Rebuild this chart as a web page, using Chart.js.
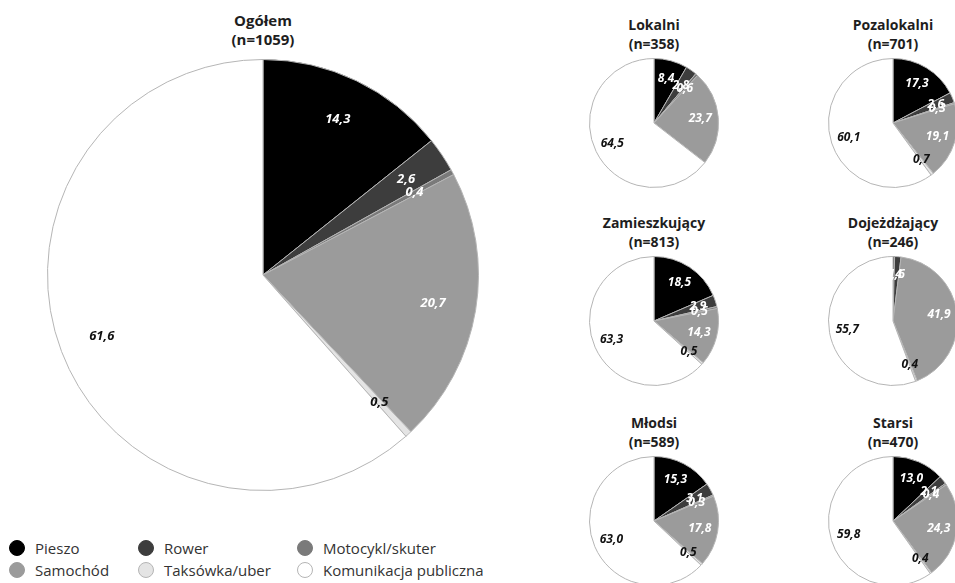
<!DOCTYPE html>
<html>
<head>
<meta charset="utf-8">
<script src="https://cdn.jsdelivr.net/npm/chart.js@4/dist/chart.umd.min.js"></script>
<style>
  body { margin: 0; width: 955px; height: 583px; overflow: hidden; background: #fff; position: relative;
         font-family: "Open Sans", "DejaVu Sans", sans-serif; }
  canvas { position: absolute; }
  .title { position: absolute; width: 200px; text-align: center; font-weight: bold; font-size: 14px;
           line-height: 19px; color: #1e1e1e; }
  .leg { position: absolute; font-size: 15px; color: #333; line-height: 20px; white-space: nowrap; }
  .leg span.dot { position: absolute; left: -26px; top: 2px; width: 16px; height: 16px; border-radius: 50%;
                  box-sizing: border-box; }
</style>
</head>
<body>
<script>
// categories (legend order)
const categories = ['Pieszo', 'Rower', 'Motocykl/skuter', 'Samochód', 'Taksówka/uber', 'Komunikacja publiczna'];
const colors = ['#000000', '#3d3d3d', '#7a7a7a', '#9b9b9b', '#e4e4e4', '#ffffff'];
const labelColors = ['#fff', '#fff', '#fff', '#fff', '#111', '#111'];

// groups shown as separate pies
const groups = ['Ogółem', 'Lokalni', 'Pozalokalni', 'Zamieszkujący', 'Dojeżdżający', 'Młodsi', 'Starsi'];
const sampleSizes = [1059, 358, 701, 813, 246, 589, 470];

// shares in % per group (same order as categories)
const ogolem        = [14.3, 2.6, 0.4, 20.7, 0.5, 61.6];
const lokalni       = [8.4, 2.8, 0.6, 23.7, 0.0, 64.5];
const pozalokalni   = [17.3, 2.6, 0.3, 19.1, 0.7, 60.1];
const zamieszkujacy = [18.5, 2.9, 0.5, 14.3, 0.5, 63.3];
const dojezdzajacy  = [0.4, 1.6, 0.0, 41.9, 0.4, 55.7];
const mlodsi        = [15.3, 3.1, 0.3, 17.8, 0.5, 63.0];
const starsi        = [13.0, 2.1, 0.4, 24.3, 0.4, 59.8];
const values = [ogolem, lokalni, pozalokalni, zamieszkujacy, dojezdzajacy, mlodsi, starsi];

// pie centre + radius on the page
const pies = [
  {cx: 263, cy: 275, r: 215, font: 13, dist: 0.8},
  {cx: 654, cy: 123, r: 64, font: 12, dist: 0.72},
  {cx: 893, cy: 123, r: 64, font: 12, dist: 0.72},
  {cx: 654, cy: 321, r: 64, font: 12, dist: 0.72},
  {cx: 893, cy: 321, r: 64, font: 12, dist: 0.72},
  {cx: 654, cy: 521, r: 64, font: 12, dist: 0.72},
  {cx: 893, cy: 521, r: 64, font: 12, dist: 0.72}
];
const titleTops = [11, 15, 15, 213, 213, 413, 413];

// value labels drawn inside the slices
const sliceLabels = {
  id: 'sliceLabels',
  afterDatasetsDraw(chart, args, opts) {
    const ctx = chart.ctx;
    const data = chart.data.datasets[0].data;
    chart.getDatasetMeta(0).data.forEach((arc, i) => {
      if (!data[i]) return;
      const p = arc.getProps(['x', 'y', 'startAngle', 'endAngle', 'outerRadius']);
      const a = (p.startAngle + p.endAngle) / 2;
      const d = p.outerRadius * opts.dist;
      ctx.save();
      ctx.font = 'italic bold ' + opts.size + 'px "Open Sans", sans-serif';
      ctx.fillStyle = labelColors[i];
      ctx.textAlign = 'center';
      ctx.textBaseline = 'middle';
      ctx.fillText(data[i].toFixed(1).replace('.', ','), p.x + Math.cos(a) * d, p.y + Math.sin(a) * d);
      ctx.restore();
    });
  }
};

groups.forEach((g, k) => {
  const pc = pies[k];
  const size = pc.r * 2 + 2;
  const cv = document.createElement('canvas');
  cv.width = size; cv.height = size;
  cv.style.left = (pc.cx - size / 2) + 'px';
  cv.style.top = (pc.cy - size / 2) + 'px';
  cv.style.width = size + 'px'; cv.style.height = size + 'px';
  document.body.appendChild(cv);

  const t = document.createElement('div');
  t.className = 'title';
  t.style.left = (pc.cx - 100) + 'px';
  t.style.top = titleTops[k] + 'px';
  if (k === 0) t.style.fontSize = '15px';
  t.innerHTML = g + '<br>(n=' + sampleSizes[k] + ')';
  document.body.appendChild(t);

  new Chart(cv, {
    type: 'pie',
    data: {
      labels: categories,
      datasets: [{
        data: values[k],
        backgroundColor: colors,
        borderColor: '#b5b5b5',
        borderWidth: 1
      }]
    },
    options: {
      responsive: false,
      animation: false,
      layout: {padding: 0},
      plugins: {
        legend: {display: false},
        tooltip: {enabled: false},
        sliceLabels: {size: pc.font, dist: pc.dist}
      }
    },
    plugins: [sliceLabels]
  });
});

// legend: 3 columns x 2 rows
const legX = [35, 164, 323];
const legY = [538, 560];
categories.forEach((c, i) => {
  const el = document.createElement('div');
  el.className = 'leg';
  el.style.left = legX[i % 3] + 'px';
  el.style.top = legY[Math.floor(i / 3)] + 'px';
  el.innerHTML = '<span class="dot" style="background:' + colors[i] + ';border:1px solid ' +
    (i >= 4 ? '#b5b5b5' : colors[i]) + '"></span>' + c;
  document.body.appendChild(el);
});
</script>
</body>
</html>
